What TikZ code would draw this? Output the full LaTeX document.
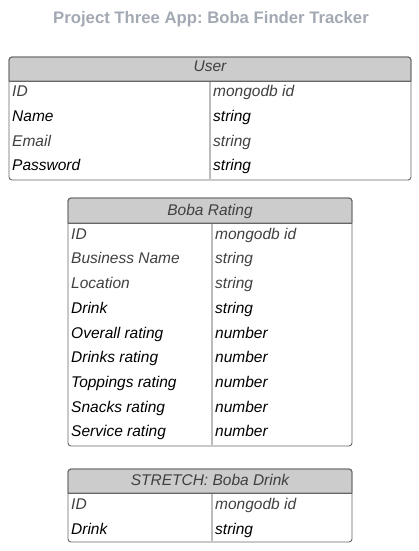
\documentclass[tikz,border=0pt]{standalone}
\usepackage{fontspec}
\setmainfont{Liberation Sans}
\frenchspacing
\definecolor{titlegray}{HTML}{A3A9B3}
\definecolor{boxline}{HTML}{666666}
\definecolor{hdrfill}{HTML}{CCCCCC}
\definecolor{divline}{HTML}{BBBBBB}
\definecolor{dim}{HTML}{404040}
\tikzset{
  tbl/.style={draw=boxline, line width=0.9pt, rounded corners=3pt},
  hdr/.style={fill=hdrfill, draw=boxline, line width=0.9pt, rounded corners=3pt},
  divider/.style={draw=divline, line width=1.6pt},
  cell/.style={anchor=base west, inner sep=0pt, font=\fontsize{15.5}{18}\selectfont\itshape},
  hdrtext/.style={anchor=base, inner sep=0pt, text=dim, font=\fontsize{15.5}{18}\selectfont\itshape}
}
\begin{document}
\begin{tikzpicture}[x=1pt, y=-1pt]
      \useasboundingbox (0,0) rectangle (419,551);
      \node[font=\fontsize{16.7}{20}\selectfont\bfseries, text=titlegray] (title) at (211,19) {Project Three App: Boba Finder Tracker};
      % User
      \fill[white, rounded corners=3pt] (9,57) rectangle (411,180);
      \path[hdr] (9,57) [sharp corners] -- (9,81) -- (411,81) [rounded corners=3pt] -- (411,57) -- cycle;
      \draw[divider] (210,81) -- (210,179);
      \draw[tbl] (9,57) rectangle (411,180);
      \draw[draw=boxline, line width=0.9pt] (9,81) -- (411,81);
      \node[hdrtext] (user) at (210,71.5) {User};
      \foreach \f/\t/\c [count=\i from 0] in {ID/mongodb id/dim, Name/string/black, Email/string/dim, Password/string/black}
      {
        \node[cell, text=\c] (user-f\i) at (12,{96.5+24.75*\i}) {\f};
        \node[cell, text=\c] (user-t\i) at (213,{96.5+24.75*\i}) {\t};
      }
      % Boba Rating
      \fill[white, rounded corners=3pt] (68,198) rectangle (352,446);
      \path[hdr] (68,198) [sharp corners] -- (68,223) -- (352,223) [rounded corners=3pt] -- (352,198) -- cycle;
      \draw[divider] (212,223) -- (212,445);
      \draw[tbl] (68,198) rectangle (352,446);
      \draw[draw=boxline, line width=0.9pt] (68,223) -- (352,223);
      \node[hdrtext] (rating) at (210,215.5) {Boba Rating};
      \foreach \f/\t/\c [count=\i from 0] in {ID/mongodb id/dim, Business Name/string/dim, Location/string/dim, Drink/string/black, Overall rating/number/black, Drinks rating/number/black, Toppings rating/number/black, Snacks rating/number/black, Service rating/number/black}
      {
        \node[cell, text=\c] (rating-f\i) at (71,{239.2+24.7*\i}) {\f};
        \node[cell, text=\c] (rating-t\i) at (215,{239.2+24.7*\i}) {\t};
      }
      % STRETCH: Boba Drink
      \fill[white, rounded corners=3pt] (68,469) rectangle (352,542);
      \path[hdr] (68,469) [sharp corners] -- (68,493) -- (352,493) [rounded corners=3pt] -- (352,469) -- cycle;
      \draw[divider] (212,493) -- (212,541);
      \draw[tbl] (68,469) rectangle (352,542);
      \draw[draw=boxline, line width=0.9pt] (68,493) -- (352,493);
      \node[hdrtext] (drink) at (210,485.5) {STRETCH: Boba Drink};
      \foreach \f/\t/\c [count=\i from 0] in {ID/mongodb id/dim, Drink/string/black}
      {
        \node[cell, text=\c] (drink-f\i) at (71,{509.5+24.5*\i}) {\f};
        \node[cell, text=\c] (drink-t\i) at (215,{509.5+24.5*\i}) {\t};
      }
\end{tikzpicture}
\end{document}
